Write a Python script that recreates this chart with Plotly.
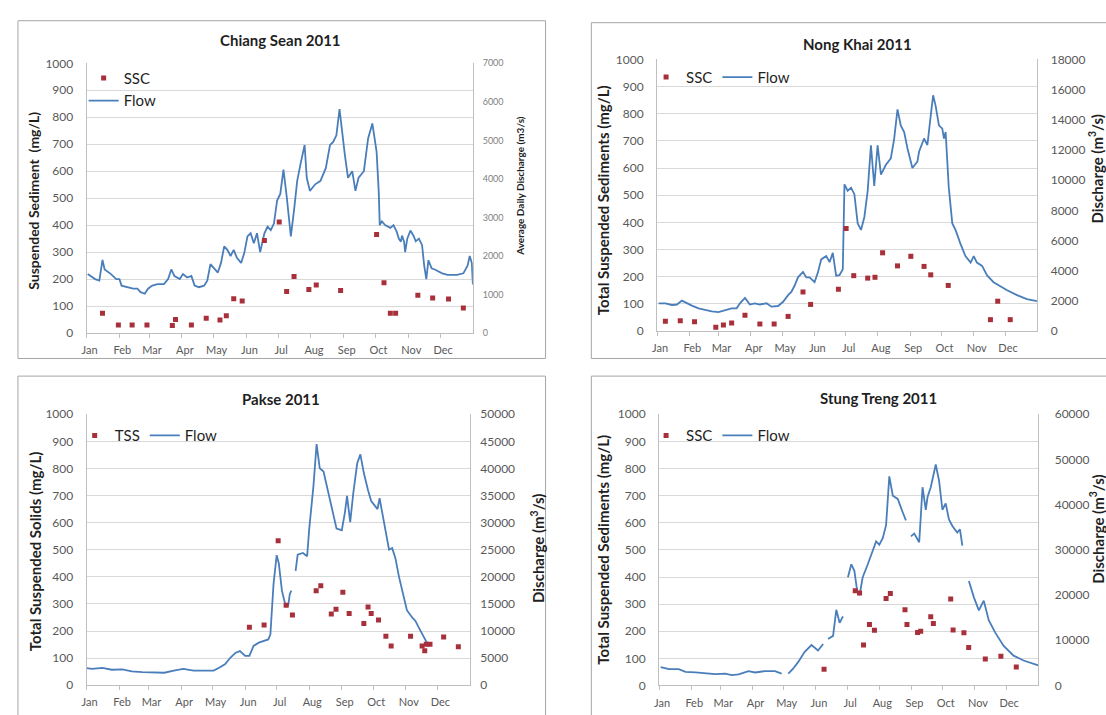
import plotly.graph_objects as go

W, H = 1106, 715
FONT = "Lato, 'Open Sans', Arial, sans-serif"
TICK_COLOR = "#595959"
TEXT_COLOR = "#1F1F1F"
FLOW_COLOR = "#4A7EBB"
SSC_COLOR = "#A8303A"
GRID_COLOR = "#D9D9D9"
AXIS_COLOR = "#BFBFBF"
FRAME_COLOR = "#A6A6A6"

MONTHS = ["Jan", "Feb", "Mar", "Apr", "May", "Jun",
          "Jul", "Aug", "Sep", "Oct", "Nov", "Dec"]
MONTH_START = [0, 31, 59, 90, 120, 151, 181, 212, 243, 273, 304, 334]

# ---------------- Chiang Sean 2011 ----------------
CS_FLOW_DAY = [1, 8, 12, 15, 17, 23, 28, 31, 33, 39, 44, 48, 51, 55, 58, 62, 67, 73, 77, 80,
               83, 88, 91, 95, 99, 102, 106, 111, 114, 117, 120, 124, 127, 130, 133, 136, 139, 142, 146, 149,
               152, 155, 158, 161, 164, 168, 171, 174, 177, 180, 183, 186, 189, 193, 196, 199, 202, 206, 208, 211,
               216, 221, 226, 230, 233, 236, 239, 241, 244, 247, 251, 254, 257, 262, 266, 270, 272.5, 274, 276, 277,
               279, 282, 287, 290, 293, 295, 297, 298, 300, 301, 303, 306, 309, 311, 314, 317, 319, 321, 323, 326,
               329, 336, 341, 345, 350, 356, 360, 362, 364, 365]
CS_FLOW = [1530, 1400, 1360, 1900, 1650, 1530, 1400, 1400, 1230, 1190, 1150, 1150, 1060, 1020, 1150, 1230, 1270, 1270, 1400, 1650,
           1480, 1400, 1530, 1440, 1480, 1230, 1190, 1230, 1360, 1790, 1690, 1570, 1820, 2250, 2160, 2000, 2160, 1950, 1820, 2080,
           2510, 2590, 2330, 2590, 2100, 2590, 2760, 2670, 2840, 3440, 3610, 4240, 3560, 2510, 3190, 3950, 4370, 4880, 4030, 3690,
           3860, 3950, 4280, 4880, 4960, 5130, 5810, 5310, 4630, 4030, 4200, 3690, 4030, 4200, 5050, 5440, 5050, 4710, 3690, 2800,
           2900, 2800, 2730, 2800, 2630, 2450, 2370, 2530, 2370, 2100, 2450, 2660, 2520, 2380, 2450, 2280, 1750, 1400, 1890, 1680,
           1650, 1550, 1510, 1510, 1510, 1550, 1750, 2000, 1820, 1260]
CS_SSC_DAY = [15, 30, 43, 57, 81, 84, 99, 113, 126, 132, 139, 147, 168, 182, 189, 196, 210, 217, 240,
              274, 281, 287, 292, 313, 327, 342, 356]
CS_SSC = [73, 30, 30, 30, 28, 50, 30, 55, 48, 64, 127, 119, 343, 412, 154, 210, 161, 178, 158,
          365, 186, 73, 73, 140, 130, 126, 93]

# ---------------- Nong Khai 2011 ----------------
NK_FLOW_DAY = [1.6, 8, 14.3, 19.1, 23.9, 28.7, 33.4, 39.8, 46.2, 52.5, 58.9, 65.3, 71.6, 76.4, 79.6, 84.4, 89.1, 93.9, 98.7, 105.1,
               109.8, 116.2, 121, 125.8, 128.9, 132.1, 135.3, 140.1, 143.3, 146.4, 151.2, 154.4, 157.6, 162.4, 165.6, 168.7, 171.9, 175.1, 178.3, 179.9,
               183, 186.2, 189.4, 192.6, 195.8, 199, 202.2, 205.3, 208.5, 211.7, 214.9, 219.7, 224.4, 227.6, 230.8, 234, 237.2, 240.4, 245.1, 249.9,
               251.5, 256.3, 259.5, 262.7, 265, 267.4, 270.6, 273.8, 275.4, 277, 280, 283.4, 286.5, 291, 296, 301, 304, 307, 312, 316.8,
               323, 329.5, 336, 345.5, 355, 364.6]
NK_FLOW = [1840, 1840, 1730, 1760, 2020, 1840, 1690, 1510, 1400, 1300, 1260, 1400, 1510, 1510, 1840, 2200, 1760, 1840, 1760, 1840,
           1620, 1660, 1940, 2380, 2590, 3020, 3560, 3920, 3560, 3560, 3240, 3890, 4750, 4970, 4570, 5180, 3670, 3710, 4100, 9720,
           9290, 9500, 9070, 7130, 6700, 7560, 9290, 12310, 9610, 12310, 10370, 11020, 11450, 12740, 14690, 13610, 13180, 12100, 10800, 11230,
           11880, 12760, 12330, 14270, 15620, 14920, 13630, 13410, 12760, 13190, 9520, 7130, 6700, 5830, 4970, 4540, 4970, 4540, 4320, 3690,
           3240, 2970, 2700, 2380, 2120, 1980]
NK_SSC_DAY = [8, 22.3, 36, 56.4, 63.7, 71.6, 84.4, 98.7, 112.4, 125.8, 140.1, 147.4, 174.1, 181.5, 188.8,
              202.2, 209.2, 216.5, 230.8, 243.6, 256.3, 262.7, 279.5, 320, 327, 339]
NK_SSC = [36, 38, 34, 14, 22, 30, 58, 26, 26, 54, 144, 98, 154, 378, 204,
          195, 198, 288, 240, 275, 238, 207, 168, 42, 110, 42]

# ---------------- Pakse 2011 ----------------
PK_FLOW_DAY = [0, 5, 15, 24, 34, 43, 53, 64, 74, 83, 92, 102, 111, 121, 127, 132, 137, 142, 146, 151,
               155, 159, 164, 168.5, 173, 175, 178, 181, 183, 186, 189, 192, 193.5, 195, 197, 199, 201, 206, 210, 212,
               216, 219, 222, 225.6, 230, 235, 238, 243, 246, 248, 251, 254, 257.7, 260.7, 264, 268, 271, 275, 277, 279,
               282, 285, 288, 291, 294, 297.5, 301, 305, 310, 313, 316, 321, 324]
PK_FLOW = [3150, 3000, 3200, 2850, 2900, 2550, 2400, 2400, 2300, 2700, 3000, 2700, 2700, 2700, 3300, 3900, 5100, 6000, 6300, 5400,
           5400, 7250, 7850, 8150, 8450, 9350, 18650, 24000, 22500, 17450, 15050, 14750, 16850, 17450, None, 21100, 24100, 24400, 23800, 28900,
           36750, 44500, 40050, 39450, 35850, 31350, 28900, 28600, 31900, 34950, 30100, 35550, 40950, 42600, 39150, 36000, 34000, 33000, 32500, 34500,
           31500, 28000, 25000, 25300, 23500, 20000, 16850, 13850, 12500, 11900, 10750, 9000, 7850]
PK_TSS_DAY = [155, 169, 182.4, 190, 196, 218.6, 223, 233, 237.5, 244, 250, 264, 268, 271,
              278, 285, 290, 308.5, 319.5, 322, 323.5, 327, 340, 354]
PK_TSS = [214, 222, 533, 295, 259, 349, 367, 263, 280, 343, 265, 228, 289, 265,
          241, 181, 145, 181, 145, 127, 151, 151, 178, 142]

# ---------------- Stung Treng 2011 ----------------
ST_FLOW_DAY = [1.6, 9.6, 19, 25.5, 35, 44.6, 54, 63.7, 70, 76.6, 86, 92.5, 102, 111.6, 118, 121, 124.4, 129, 134, 140,
               146.7, 150, 153, 158, 160, 162.7, 167.5, 170.6, 173.8, 177, 179.5, 181.8, 185, 188, 190.6, 193, 196, 200.9, 205.7, 208.9,
               212, 215.3, 218.5, 221.6, 225, 229.7, 234.5, 237.6, 240, 242.4, 245.6, 250.4, 253.6, 256.7, 258.4, 261.5, 263, 266.3, 269.5, 272.7,
               275.9, 279, 282.3, 287, 289.6, 291.9, 295, 298.2, 303, 307.8, 312.5, 317.3, 323.7, 331.7, 341.2, 350.8, 365]
ST_FLOW = [4080, 3600, 3600, 3000, 2880, 2640, 2520, 2640, 2280, 2460, 3180, 2880, 3180, 3180, 2640, None, 2640, 3720, 5220, 7380,
           8940, 8220, 7740, 9180, None, 10260, 10980, 16740, 13860, 15300, None, 23940, 26820, 25380, 21060, 19980, 23940, 26820, 29700, 31860,
           31140, 32580, 35460, 46260, 42000, 41280, 38340, 36540, None, 33000, 33600, 31680, 43860, 38880, 41700, 43860, 45300, 48900, 45300, 38880,
           40260, 36720, 35280, 33840, 34560, 30960, None, 23100, 19500, 16620, 18780, 14460, 11640, 8760, 6600, 5520, 4440]
ST_SSC_DAY = [158.8, 188.8, 193, 196.8, 202.5, 207.3, 218.5, 222.6, 236.7, 238.6, 248.8,
              251.8, 261.5, 264, 280.7, 283, 293.4, 298, 314, 329, 343.8]
ST_SSC = [60, 349, 341, 149, 225, 204, 321, 339, 279, 225, 195,
          200, 253, 229, 319, 205, 194, 140, 98, 108, 68]

PANELS = [
    dict(title="Chiang Sean 2011", title_xy=(277, 33),
         sed_title="Suspended Sediment  (mg/L)", sed_xy=(29, 197), sed_size=14,
         q_title="Average Daily Discharge (m3/s)", q_xy=(518, 182), q_title_size=10,
         sample="SSC", flow_day=CS_FLOW_DAY, flow=CS_FLOW, ssc_day=CS_SSC_DAY, ssc=CS_SSC,
         q_max=7000, q_step=1000, q_tick_size=9, q_tick_color="#7F7F7F", q_standoff=7,
         area=(82, 470, 56.5, 332), frame=(13, 543, 13, 358),
         legend=(79, 55, "v")),
    dict(title="Nong Khai 2011", title_xy=(856, 37),
         sed_title="Total Suspended Sediments (mg/L)", sed_xy=(601, 196), sed_size=15,
         q_title="Discharge (m<sup>3</sup>/s)", q_xy=(1096, 165), q_title_size=15,
         sample="SSC", flow_day=NK_FLOW_DAY, flow=NK_FLOW, ssc_day=NK_SSC_DAY, ssc=NK_SSC,
         q_max=18000, q_step=2000, q_tick_size=12, q_tick_color=TICK_COLOR, q_standoff=10,
         area=(655, 1037, 52.5, 330), frame=(589, 1120, 15, 358),
         legend=(644, 54, "h")),
    dict(title="Pakse 2011", title_xy=(277, 399),
         sed_title="Total Suspended Solids (mg/L)", sed_xy=(30, 555), sed_size=15,
         q_title="Discharge (m<sup>3</sup>/s)", q_xy=(535, 552), q_title_size=15,
         sample="TSS", flow_day=PK_FLOW_DAY, flow=PK_FLOW, ssc_day=PK_TSS_DAY, ssc=PK_TSS,
         q_max=50000, q_step=5000, q_tick_size=12, q_tick_color=TICK_COLOR, q_standoff=7,
         area=(82, 467, 415, 691.7), frame=(13, 543, 376, 740),
         legend=(70, 420, "h")),
    dict(title="Stung Treng 2011", title_xy=(877, 398),
         sed_title="Total Suspended Sediments (mg/L)", sed_xy=(601, 553), sed_size=15,
         q_title="Discharge (m<sup>3</sup>/s)", q_xy=(1097, 533), q_title_size=15,
         sample="SSC", flow_day=ST_FLOW_DAY, flow=ST_FLOW, ssc_day=ST_SSC_DAY, ssc=ST_SSC,
         q_max=60000, q_step=10000, q_tick_size=12, q_tick_color=TICK_COLOR, q_standoff=13,
         area=(657, 1038, 415, 692), frame=(589, 1120, 376, 740),
         legend=(644, 420, "h")),
]

fig = go.Figure()
layout = dict(
    width=W, height=H, margin=dict(l=0, r=0, t=0, b=0),
    paper_bgcolor="white", plot_bgcolor="white",
    font=dict(family=FONT, color=TEXT_COLOR),
    showlegend=True, annotations=[], shapes=[],
)

for i, p in enumerate(PANELS, start=1):
    xa = "x" if i == 1 else f"x{i}"
    yq = "y" if i == 1 else f"y{2 * i - 1}"
    ys = f"y{2 * i}"
    leg = "legend" if i == 1 else f"legend{i}"

    # sediment samples (left axis, drawn above the flow line)
    fig.add_trace(go.Scatter(
        x=p["ssc_day"], y=p["ssc"], name=p["sample"], mode="markers",
        marker=dict(symbol="square", size=5, color=SSC_COLOR),
        xaxis=xa, yaxis=ys, legend=leg, hoverinfo="skip"))
    # daily discharge (right axis)
    fig.add_trace(go.Scatter(
        x=p["flow_day"], y=p["flow"], name="Flow", mode="lines",
        line=dict(color=FLOW_COLOR, width=1.8), connectgaps=False,
        xaxis=xa, yaxis=yq, legend=leg, hoverinfo="skip"))

    l, r, t, b = p["area"]
    xkey = "xaxis" if i == 1 else f"xaxis{i}"
    yqkey = "yaxis" if i == 1 else f"yaxis{2 * i - 1}"
    yskey = f"yaxis{2 * i}"

    layout[xkey] = dict(
        domain=[l / W, r / W], anchor=yq, range=[0, 365],
        tickvals=MONTH_START, ticktext=MONTHS, ticklabelshift=3,
        showline=True, linecolor=AXIS_COLOR, linewidth=1,
        ticks="outside", ticklen=4, tickcolor=AXIS_COLOR,
        showgrid=False, zeroline=False,
        tickfont=dict(size=11, color=TICK_COLOR), ticklabelstandoff=3)
    layout[yqkey] = dict(
        domain=[1 - b / H, 1 - t / H], anchor=xa, side="right",
        range=[0, p["q_max"]], dtick=p["q_step"], tickformat="d",
        showgrid=False, zeroline=False, showline=True, linecolor=AXIS_COLOR,
        ticks="", ticklabelstandoff=p["q_standoff"],
        tickfont=dict(size=p["q_tick_size"], color=p["q_tick_color"]))
    layout[yskey] = dict(
        overlaying=yq, anchor=xa, side="left",
        range=[0, 1000], dtick=100,
        showgrid=True, gridcolor=GRID_COLOR, gridwidth=1,
        zeroline=False, showline=True, linecolor=AXIS_COLOR,
        ticks="", ticklabelstandoff=10,
        tickfont=dict(size=12, color=TICK_COLOR))

    lx, ly, orient = p["legend"]
    layout[leg] = dict(
        x=lx / W, y=1 - ly / H, xanchor="left", yanchor="top",
        orientation=orient, itemwidth=30, bgcolor="rgba(0,0,0,0)",
        font=dict(size=15, color=TEXT_COLOR, family=FONT),
        tracegroupgap=0, itemclick=False)

    # panel frame
    fl, fr, ft, fb = p["frame"]
    layout["shapes"].append(dict(
        type="rect", xref="paper", yref="paper",
        x0=fl / W, x1=fr / W, y0=1 - fb / H, y1=1 - ft / H,
        line=dict(color=FRAME_COLOR, width=1), fillcolor="rgba(0,0,0,0)", layer="below"))

    tx, ty = p["title_xy"]
    layout["annotations"].append(dict(
        text=f"<b>{p['title']}</b>", x=tx / W, y=1 - ty / H, xref="paper", yref="paper",
        showarrow=False, xanchor="center", yanchor="middle",
        font=dict(size=15, color=TEXT_COLOR)))
    sx, sy = p["sed_xy"]
    layout["annotations"].append(dict(
        text=f"<b>{p['sed_title']}</b>", x=sx / W, y=1 - sy / H, xref="paper", yref="paper",
        showarrow=False, xanchor="center", yanchor="middle", textangle=-90,
        font=dict(size=p["sed_size"], color=TEXT_COLOR)))
    qx, qy = p["q_xy"]
    layout["annotations"].append(dict(
        text=f"<b>{p['q_title']}</b>", x=qx / W, y=1 - qy / H, xref="paper", yref="paper",
        showarrow=False, xanchor="center", yanchor="middle", textangle=-90,
        font=dict(size=p["q_title_size"], color=TEXT_COLOR)))

fig.update_layout(**layout)
fig.write_html("out.html")
